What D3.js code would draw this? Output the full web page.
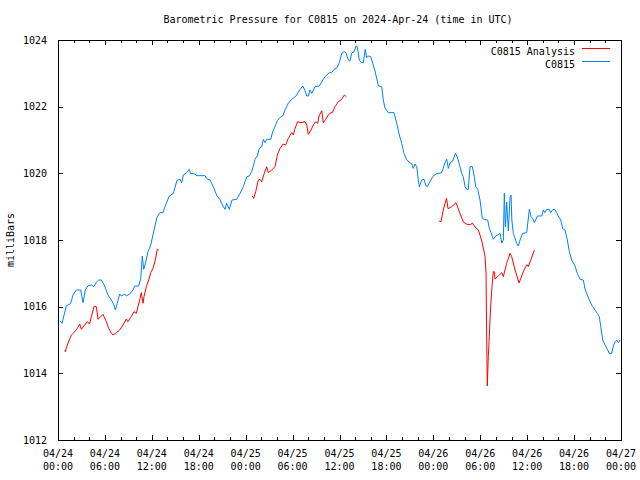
<!DOCTYPE html>
<html>
<head>
<meta charset="utf-8">
<script src="https://cdn.jsdelivr.net/npm/d3@7"></script>
<style>
html,body{margin:0;padding:0;background:#fff;}
text{font-family:"DejaVu Sans Mono","Liberation Mono",monospace;font-size:10px;fill:#000;}
</style>
</head>
<body>
<svg id="chart" width="640" height="480"></svg>
<script>
// ---- data (hours since 2024-04-24 00:00 UTC, pressure in mb) ----
const title = "Barometric Pressure for C0815 on 2024-Apr-24 (time in UTC)";
const yLabel = "milliBars";
const seriesNames = ["C0815 Analysis", "C0815"];
const xTickHours = [0, 6, 12, 18, 24, 30, 36, 42, 48, 54, 60, 66, 72];
const xTickDates = ["04/24","04/24","04/24","04/24","04/25","04/25","04/25","04/25","04/26","04/26","04/26","04/26","04/27"];
const xTickTimes = ["00:00","06:00","12:00","18:00","00:00","06:00","12:00","18:00","00:00","06:00","12:00","18:00","00:00"];
const yTicks = [1012, 1014, 1016, 1018, 1020, 1022, 1024];

const obsHours = [0.22,0.51,1.06,1.62,1.92,2.34,2.90,3.20,3.49,3.84,4.26,4.57,4.90,5.21,5.54,5.97,6.39,6.82,7.16,7.33,7.58,7.89,8.10,8.53,8.74,9.17,9.59,9.81,10.32,10.58,10.78,10.96,11.16,11.51,11.86,12.28,12.66,13.01,13.43,13.68,14.23,14.75,15.22,15.60,15.82,16.02,16.46,16.79,16.97,17.52,17.74,18.80,19.02,19.44,19.66,19.86,20.08,20.33,20.72,21.14,21.36,21.57,21.91,22.25,22.85,23.28,23.70,24.13,24.47,24.77,24.98,25.19,25.49,25.74,26.05,26.26,26.47,26.69,27.20,27.46,27.75,28.05,28.39,28.74,29.03,29.45,29.89,30.44,30.95,31.30,31.59,31.81,32.01,32.23,32.45,32.87,33.42,33.73,34.15,34.70,35.00,35.30,35.64,35.98,36.28,36.58,36.83,37.13,37.34,37.56,37.86,38.11,38.28,38.53,38.84,39.05,39.29,39.48,39.69,39.99,40.25,40.54,40.80,40.99,41.40,41.60,41.82,42.24,42.97,43.32,43.65,43.96,44.25,44.60,45.02,45.24,45.44,45.66,45.88,46.08,46.21,46.39,46.51,46.81,47.06,47.23,47.58,47.92,48.34,48.64,48.94,49.20,49.49,49.71,49.92,50.13,50.48,50.81,51.07,51.32,51.63,51.83,52.05,52.27,52.47,52.69,52.99,53.24,53.42,53.68,53.97,54.26,54.52,54.95,55.16,55.38,55.67,55.98,56.23,56.53,56.75,56.95,57.08,57.21,57.38,57.59,57.81,57.94,58.04,58.23,58.66,58.87,59.09,59.43,59.94,60.28,60.49,60.71,60.92,61.13,61.30,61.86,62.07,62.28,62.50,62.83,63.01,63.27,63.56,63.78,63.98,64.29,64.55,64.84,65.14,65.39,65.70,66.12,66.41,66.76,67.18,67.40,67.69,68.04,68.38,68.68,68.97,69.23,69.41,69.66,69.96,70.25,70.51,70.81,71.02,71.24,71.45,71.66,71.88];
const obsValues = [1015.58,1015.50,1016.02,1016.10,1016.35,1016.50,1016.50,1016.12,1016.50,1016.63,1016.65,1016.60,1016.73,1016.80,1016.80,1016.62,1016.35,1016.20,1016.05,1015.90,1016.10,1016.38,1016.32,1016.38,1016.32,1016.38,1016.50,1016.62,1016.62,1016.85,1017.52,1017.12,1017.28,1017.65,1017.85,1018.30,1018.68,1018.82,1018.82,1019.00,1019.32,1019.40,1019.79,1019.82,1019.71,1019.95,1020.02,1020.12,1020.00,1019.98,1019.93,1019.93,1019.84,1019.80,1019.69,1019.60,1019.47,1019.32,1019.21,1019.00,1018.92,1019.10,1018.92,1019.20,1019.22,1019.40,1019.60,1019.90,1019.92,1020.05,1020.22,1020.42,1020.52,1020.75,1020.80,1021.02,1020.92,1021.02,1021.02,1021.25,1021.40,1021.58,1021.68,1021.72,1021.90,1022.10,1022.22,1022.32,1022.52,1022.62,1022.48,1022.32,1022.32,1022.50,1022.40,1022.60,1022.62,1022.75,1022.90,1023.02,1023.02,1023.12,1023.15,1023.32,1023.60,1023.65,1023.62,1023.40,1023.37,1023.61,1023.65,1023.82,1023.80,1023.40,1023.32,1023.32,1023.72,1023.47,1023.52,1023.50,1023.30,1023.07,1022.80,1022.62,1022.60,1022.20,1021.96,1021.82,1021.82,1021.50,1021.15,1020.90,1020.60,1020.40,1020.32,1020.28,1020.15,1020.28,1020.20,1019.80,1019.60,1019.72,1019.80,1019.82,1019.62,1019.60,1019.75,1019.90,1019.98,1020.00,1020.00,1020.10,1020.32,1020.42,1020.15,1020.31,1020.37,1020.60,1020.49,1020.28,1020.00,1019.90,1019.60,1019.52,1019.52,1020.20,1020.20,1019.90,1019.60,1019.52,1019.20,1018.65,1018.62,1018.60,1018.35,1018.22,1018.02,1018.12,1018.15,1018.20,1017.91,1018.00,1019.40,1018.40,1019.14,1018.27,1019.29,1019.35,1018.60,1018.20,1017.90,1017.82,1018.00,1018.20,1018.22,1018.92,1018.70,1018.65,1018.52,1018.62,1018.72,1018.72,1018.90,1018.82,1018.92,1018.92,1018.82,1018.91,1018.91,1018.82,1018.72,1018.60,1018.34,1018.30,1018.00,1017.65,1017.40,1017.22,1017.00,1016.82,1016.80,1016.53,1016.35,1016.15,1016.00,1015.90,1015.80,1015.70,1015.40,1015.00,1014.85,1014.72,1014.60,1014.60,1014.82,1014.95,1015.00,1014.92,1015.00];

// analysis series: null marks a gap between runs
const anaHours = [0.90,0.93,1.19,1.70,2.14,2.47,2.78,2.98,3.41,3.75,4.05,4.26,4.60,4.90,5.12,5.46,5.75,6.18,6.48,6.82,7.03,7.46,7.89,8.31,8.74,8.95,9.37,9.72,10.01,10.23,10.45,10.65,10.87,11.00,11.29,11.60,11.86,12.15,12.44,12.70,12.88,
  18.0,
  24.85,25.03,25.28,25.62,25.83,26.05,26.38,26.69,26.90,27.33,27.75,28.05,28.39,28.81,29.12,29.45,29.89,30.09,30.31,30.66,30.95,31.59,31.81,32.01,32.36,32.65,32.96,33.21,33.38,33.73,33.93,34.24,34.57,34.92,35.08,35.43,35.85,36.28,36.62,36.87,
  42.0,
  48.73,48.98,49.28,49.49,49.69,49.88,50.35,50.90,51.41,51.83,52.31,52.76,52.99,53.33,53.75,53.97,54.19,54.42,54.61,54.74,54.80,54.90,55.03,55.16,55.25,55.38,55.57,55.67,55.80,55.89,56.31,56.75,56.95,57.38,57.81,58.02,58.45,58.96,59.51,59.94,60.14,60.49,60.92];
const anaValues = [1014.70,1014.65,1014.85,1015.15,1015.25,1015.35,1015.48,1015.32,1015.45,1015.55,1015.48,1015.70,1016.00,1016.00,1015.62,1015.70,1015.77,1015.55,1015.35,1015.20,1015.15,1015.22,1015.30,1015.45,1015.63,1015.55,1015.70,1015.85,1015.80,1016.00,1016.20,1016.42,1016.10,1016.30,1016.60,1016.80,1017.02,1017.15,1017.40,1017.72,1017.70,
  null,
  1019.32,1019.25,1019.45,1019.80,1019.82,1019.75,1020.00,1020.20,1020.02,1020.10,1020.20,1020.55,1020.75,1020.88,1020.85,1021.05,1021.22,1021.15,1021.35,1021.55,1021.52,1021.55,1021.45,1021.17,1021.30,1021.45,1021.55,1021.50,1021.72,1021.88,1021.52,1021.62,1021.75,1021.82,1021.82,1022.00,1022.15,1022.22,1022.35,1022.30,
  null,
  1018.57,1018.55,1018.90,1019.10,1019.25,1018.94,1019.00,1019.12,1018.80,1018.54,1018.47,1018.46,1018.51,1018.39,1018.30,1018.15,1017.97,1017.73,1017.50,1017.01,1015.54,1013.62,1014.50,1015.10,1015.60,1016.20,1016.80,1017.05,1017.05,1016.83,1016.92,1017.02,1016.90,1017.30,1017.60,1017.50,1017.10,1016.71,1017.05,1017.26,1017.20,1017.42,1017.70];

const colors = {analysis: "#ff0000", obs: "#0080ff"};

// ---- drawing ----
const svg = d3.select("#chart");
const L = 58, R = 621, T = 40, B = 440;
const x = d3.scaleLinear().domain([0, 72]).range([L, R]);
const y = d3.scaleLinear().domain([1012, 1024]).range([B, T]);

// title
svg.append("text").attr("x", 338).attr("y", 23).attr("text-anchor", "middle").text(title);
// y label
svg.append("text").attr("transform", "translate(14,240) rotate(-90)").attr("text-anchor", "middle").text(yLabel);

const g = svg.append("g").attr("shape-rendering", "crispEdges");

// minor ticks every 2 hours
const minorHours = d3.range(0, 73, 2).filter(h => h % 6 !== 0);
g.selectAll(".mnb").data(minorHours).join("line")
  .attr("x1", d => Math.round(x(d)) + 0.5).attr("x2", d => Math.round(x(d)) + 0.5)
  .attr("y1", B).attr("y2", B - 3).attr("stroke", "#000");
g.selectAll(".mnt").data(minorHours).join("line")
  .attr("x1", d => Math.round(x(d)) + 0.5).attr("x2", d => Math.round(x(d)) + 0.5)
  .attr("y1", T).attr("y2", T + 3).attr("stroke", "#000");

// bottom axis (major)
const xAxis = d3.axisBottom(x).tickValues(xTickHours).tickSizeInner(-5).tickSizeOuter(0).tickFormat(() => "");
const gx = g.append("g").attr("transform", `translate(0,${B})`).call(xAxis);
gx.select(".domain").remove();
const xTop = d3.axisTop(x).tickValues(xTickHours).tickSizeInner(-5).tickSizeOuter(0).tickFormat(() => "");
const gxt = g.append("g").attr("transform", `translate(0,${T})`).call(xTop);
gxt.select(".domain").remove();

// x labels (two lines)
const xl = svg.append("g");
xTickHours.forEach((h, i) => {
  const t = xl.append("text").attr("x", x(h)).attr("y", 457).attr("text-anchor", "middle");
  t.append("tspan").attr("x", x(h)).text(xTickDates[i]);
  t.append("tspan").attr("x", x(h)).attr("dy", 13).text(xTickTimes[i]);
});

// y axes
const yAxis = d3.axisLeft(y).tickValues(yTicks).tickSizeInner(-5).tickSizeOuter(0).tickPadding(11).tickFormat(d3.format("d"));
const gy = g.append("g").attr("transform", `translate(${L},0)`).call(yAxis);
gy.select(".domain").remove();
gy.selectAll("text").style("font-family", "DejaVu Sans Mono").style("font-size", "10px").attr("shape-rendering", null);
const yRight = d3.axisRight(y).tickValues(yTicks).tickSizeInner(-5).tickSizeOuter(0).tickFormat(() => "");
const gyr = g.append("g").attr("transform", `translate(${R},0)`).call(yRight);
gyr.select(".domain").remove();

// frame
g.append("rect").attr("x", L + 0.5).attr("y", T + 0.5).attr("width", R - L).attr("height", B - T)
  .attr("fill", "none").attr("stroke", "#000");

// lines
const obsData = obsHours.map((h, i) => [h, obsValues[i]]);
const anaData = anaHours.map((h, i) => [h, anaValues[i]]);
const line = d3.line().defined(d => d[1] !== null).x(d => x(d[0])).y(d => y(d[1]));

svg.append("path").datum(obsData).attr("d", line).attr("fill", "none")
  .attr("stroke", colors.obs).attr("stroke-width", 1);
svg.append("path").datum(anaData).attr("d", line).attr("fill", "none")
  .attr("stroke", colors.analysis).attr("stroke-width", 1);

// legend
const leg = svg.append("g");
[[seriesNames[0], colors.analysis, 51], [seriesNames[1], colors.obs, 64]].forEach(([name, c, yy]) => {
  leg.append("text").attr("x", 575).attr("y", yy + 3.5).attr("text-anchor", "end").text(name);
  leg.append("line").attr("x1", 582).attr("x2", 610).attr("y1", yy - 2.5).attr("y2", yy - 2.5)
    .attr("stroke", c).attr("stroke-width", 1).attr("shape-rendering", "crispEdges");
});
</script>
</body>
</html>
